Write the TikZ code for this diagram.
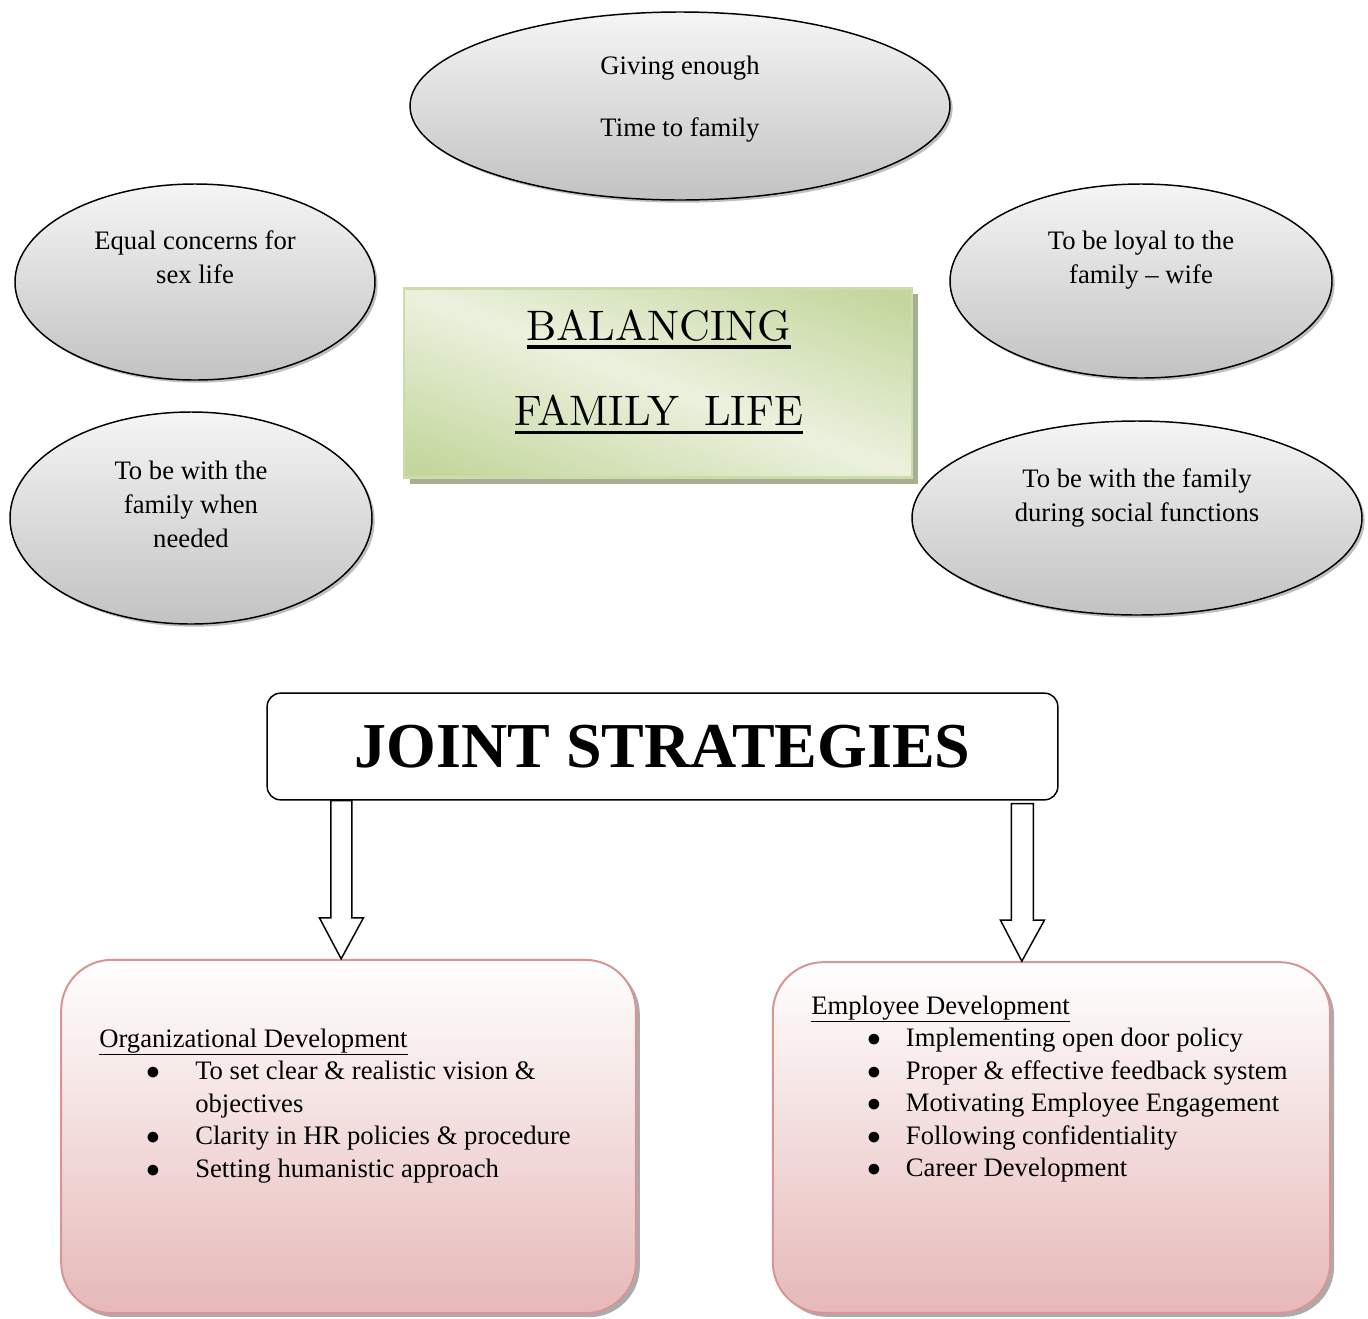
\documentclass[tikz,border=0pt]{standalone}
\usepackage{fontspec}
\newfontfamily\timesfont{Liberation Serif}
\usepackage{enumitem}
\usetikzlibrary{shapes.geometric,shadows,calc}
\definecolor{bubbletop}{HTML}{F5F5F5}
\definecolor{bubblebot}{HTML}{C2C2C2}
\definecolor{greenlight}{HTML}{EBF1DE}
\definecolor{greendark}{HTML}{C3D69B}
\definecolor{greenshadow}{HTML}{A6AE94}
\definecolor{pinkline}{HTML}{D99594}
\definecolor{pinkbot}{HTML}{E6B9B8}
\pgfdeclarehorizontalshading{greenband}{100bp}{color(0bp)=(greendark); color(20bp)=(greendark); color(50bp)=(greenlight); color(80bp)=(greendark); color(100bp)=(greendark)}
\newcommand\thickul[1]{\setbox0\hbox{#1}\leavevmode\rlap{\rule[-2pt]{\wd0}{0.8pt}}\box0}
\tikzset{
  bubble/.style={ellipse, draw=black, line width=1.1pt, inner sep=0pt,
    top color=bubbletop, bottom color=bubblebot,
    drop shadow={shadow xshift=2pt, shadow yshift=-2pt, fill=black, opacity=0.25}},
  bubbletext/.style={align=center, font=\timesfont\fontsize{20}{25.5}\selectfont},
  titlebox/.style={rectangle, draw=greendark!85!white, line width=2pt,
    shading=greenband, shading angle=70,
    drop shadow={shadow xshift=4.5pt, shadow yshift=-4.5pt, fill=greenshadow, opacity=1}},
  stratbox/.style={rectangle, draw=black, line width=1.1pt, rounded corners=10pt, fill=white},
  pinkbox/.style={rectangle, draw=pinkline, line width=1.5pt, rounded corners=38pt,
    top color=white, bottom color=pinkbot,
    drop shadow={shadow xshift=3pt, shadow yshift=-3pt, fill=black!55, opacity=0.6}},
  hollowarrow/.style={draw=black, line width=1.1pt, fill=white, line join=miter},
  listtext/.style={anchor=base west, inner sep=0pt, font=\timesfont\fontsize{20}{24.4}\selectfont}
}
\begin{document}
\begin{tikzpicture}[x=0.75pt,y=-0.75pt]
  \useasboundingbox (0,0) rectangle (1368,1318);
  \fill[white] (0,0) rectangle (1368,1318);
  % family bubbles
  \node[bubble, minimum width=405pt, minimum height=141pt] (time) at (680,106) {};
  \node[bubbletext] (time-t) at (680,99) {Giving enough\\[21pt]Time to family};
  \node[bubble, minimum width=270pt, minimum height=147pt] (sex) at (195,282) {};
  \node[bubbletext] (sex-t) at (195,257) {Equal concerns for\\sex life};
  \node[bubble, minimum width=271.5pt, minimum height=159pt] (need) at (191,518) {};
  \node[bubbletext] (need-t) at (191,504) {To be with the\\family when\\needed};
  \node[bubble, minimum width=286.5pt, minimum height=145.5pt] (loyal) at (1141,281) {};
  \node[bubbletext] (loyal-t) at (1141,260) {To be loyal to the\\family – wife};
  \node[bubble, minimum width=337.5pt, minimum height=145.5pt] (social) at (1137,518) {};
  \node[bubbletext] (social-t) at (1137,498) {To be with the family\\during social functions};
  % centre title
  \node[titlebox, minimum width=381pt, minimum height=142pt] (bal) at (658,383) {};
  \node[align=center, scale=3.2, font=\fontsize{10}{20}\selectfont] (bal-t) at (659,372)
    {\thickul{BALANCING}\\\thickul{FAMILY\ \hspace{2.5pt}LIFE}};
  % strategies
  \node[stratbox, minimum width=593pt, minimum height=80pt,
    font=\timesfont\bfseries\fontsize{48}{48}\selectfont] (js) at (662.5,746.5) {JOINT STRATEGIES};
  \node[pinkbox, minimum width=431pt, minimum height=265pt] (od) at (348.5,1136.5) {};
  \node[pinkbox, minimum width=418pt, minimum height=263pt] (ed) at (1051.5,1137.5) {};
  \node[listtext] (od-t) at (99,1047) {\begin{minipage}[t]{368pt}\raggedright
    \underline{Organizational Development}
    \begin{itemize}[label=$\bullet$,leftmargin=72pt,labelsep=26.5pt,nosep]
      \item To set clear \& realistic vision \& objectives
      \item Clarity in HR policies \& procedure
      \item Setting humanistic approach
    \end{itemize}
    \end{minipage}};
  \node[listtext] (ed-t) at (811,1014) {\begin{minipage}[t]{382pt}\raggedright
    \underline{Employee Development}
    \begin{itemize}[label=$\bullet$,leftmargin=71pt,labelsep=18.75pt,nosep]
      \item Implementing open door policy
      \item Proper \& effective feedback system
      \item Motivating Employee Engagement
      \item Following confidentiality
      \item Career Development
    \end{itemize}
    \end{minipage}};
  % block arrows
  \coordinate (l-top) at ($(js.south west)+(75,0)$);
  \coordinate (l-tip) at ($(od.north west)+(281,0)$);
  \coordinate (r-top) at ($(js.south west)+(756,3)$);
  \coordinate (r-tip) at ($(ed.north west)+(250,0)$);
  \draw[hollowarrow] let \p1=(l-top), \p2=(l-tip) in
    (\x1-7.9pt,\y1) -- (\x1-7.9pt,\y2+30.75pt) -- (\x1-16.5pt,\y2+30.75pt) -- (\x2,\y2)
    -- (\x1+16.5pt,\y2+30.75pt) -- (\x1+7.9pt,\y2+30.75pt) -- (\x1+7.9pt,\y1) -- cycle;
  \draw[hollowarrow] let \p1=(r-top), \p2=(r-tip) in
    (\x1-8.25pt,\y1) -- (\x1-8.25pt,\y2+30.75pt) -- (\x1-16.5pt,\y2+30.75pt) -- (\x2,\y2)
    -- (\x1+16.5pt,\y2+30.75pt) -- (\x1+8.25pt,\y2+30.75pt) -- (\x1+8.25pt,\y1) -- cycle;
\end{tikzpicture}
\end{document}
